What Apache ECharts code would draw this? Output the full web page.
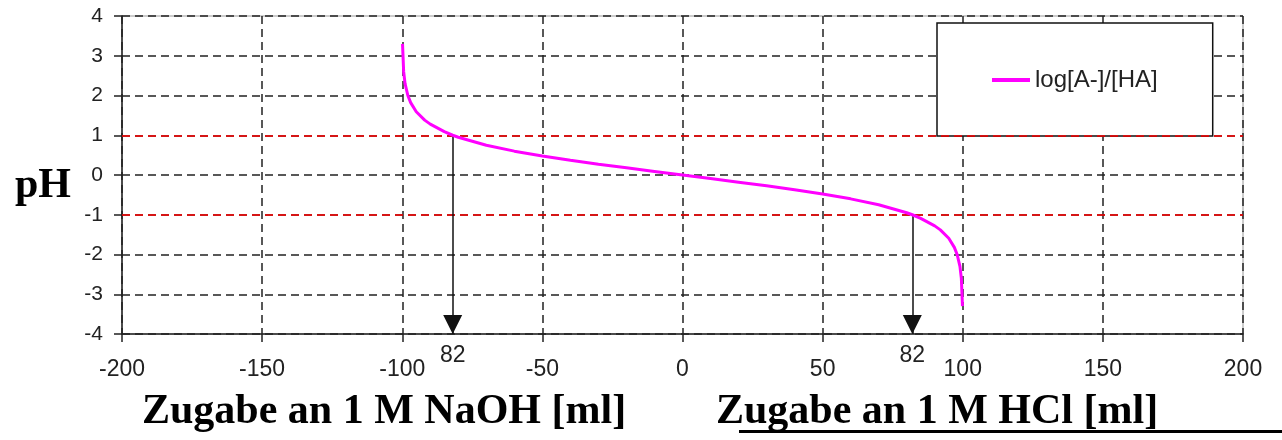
<!DOCTYPE html>
<html>
<head>
<meta charset="utf-8">
<script src="https://cdn.jsdelivr.net/npm/echarts@6/dist/echarts.min.js"></script>
<style>
  html, body { margin: 0; padding: 0; background: #fff; }
  #chart { width: 1282px; height: 440px; }
</style>
</head>
<body>
<div id="chart"></div>
<script>
// Zugabe (ml), negativ = NaOH, positiv = HCl
const volumes = [-99.9, -99.5, -99, -98, -97, -95, -92, -90, -85, -82, -80, -75, -70, -60, -50, -40, -30, -20, -10,
  0, 10, 20, 30, 40, 50, 60, 70, 75, 80, 82, 85, 90, 92, 95, 97, 98, 99, 99.5, 99.9];
const logRatio = [3.3, 2.6, 2.3, 2.0, 1.82, 1.59, 1.38, 1.28, 1.09, 1.0, 0.95, 0.85, 0.75, 0.6, 0.48, 0.37, 0.27, 0.18, 0.09,
  0, -0.09, -0.18, -0.27, -0.37, -0.48, -0.6, -0.75, -0.85, -0.95, -1.0, -1.09, -1.28, -1.38, -1.59, -1.82, -2.0, -2.3, -2.6, -3.3];
const seriesName = 'log[A-]/[HA]';
const refLevels = [1, -1];
const arrowVolumes = [-82, 82];
const arrowLabels = ['82', '82'];
const yMin = -4;

const chart = echarts.init(document.getElementById('chart'), null, { renderer: 'canvas' });

const curve = volumes.map((v, i) => [v, logRatio[i]]);

const option = {
  backgroundColor: '#fff',
  animation: false,
  grid: {
    left: 122,
    right: 39,
    top: 16,
    bottom: 106,
    show: true,
    borderColor: '#999',
    borderWidth: 1
  },
  legend: {
    data: [seriesName],
    left: 937,
    top: 23,
    padding: [45, 55, 44, 55],
    backgroundColor: '#fff',
    borderColor: '#111',
    borderWidth: 1.5,
    icon: 'rect',
    itemWidth: 38,
    itemHeight: 4,
    textStyle: {
      fontFamily: 'Liberation Sans',
      fontSize: 24,
      color: '#222'
    }
  },
  xAxis: {
    type: 'value',
    min: -200,
    max: 200,
    interval: 50,
    axisLine: { onZero: false, lineStyle: { color: '#222', width: 1.5 } },
    axisTick: { show: true, inside: false, length: 8, lineStyle: { color: '#222', width: 1.5 } },
    axisLabel: {
      fontFamily: 'Liberation Sans',
      fontSize: 23,
      color: '#222',
      margin: 24
    },
    splitLine: {
      show: true,
      lineStyle: { color: '#222', type: [8, 5], width: 1.5 }
    }
  },
  yAxis: {
    type: 'value',
    min: yMin,
    max: 4,
    interval: 1,
    axisLine: { show: true, onZero: false, lineStyle: { color: '#222', width: 1.5 } },
    axisTick: { show: true, inside: false, length: 8, lineStyle: { color: '#222', width: 1.5 } },
    axisLabel: {
      fontFamily: 'Liberation Sans',
      fontSize: 21,
      color: '#222',
      margin: 19
    },
    splitLine: {
      show: true,
      lineStyle: { color: '#222', type: [8, 5], width: 1.5 }
    }
  },
  series: [
    {
      name: seriesName,
      type: 'line',
      data: curve,
      showSymbol: false,
      symbol: 'none',
      smooth: false,
      itemStyle: { color: '#ff00ff' },
      lineStyle: { color: '#ff00ff', width: 3 },
      z: 5,
      markLine: {
        silent: true,
        symbol: ['none', 'none'],
        animation: false,
        data: refLevels.map(y => ({
          yAxis: y,
          lineStyle: { color: 'rgba(255,0,0,0.75)', type: [8, 5], width: 2 },
          label: { show: false }
        }))
      }
    },
    {
      // Pfeile vom Umschlagpunkt zur x-Achse
      type: 'line',
      data: [],
      silent: true,
      z: 6,
      markLine: {
        silent: true,
        animation: false,
        symbol: ['none', 'none'],
        lineStyle: { color: '#111', type: 'solid', width: 1.5 },
        label: {
          show: true,
          position: 'end',
          distance: 10,
          fontFamily: 'Liberation Sans',
          fontSize: 23,
          color: '#222'
        },
        data: arrowVolumes.map((v, i) => [
          { coord: [v, v < 0 ? refLevels[0] : refLevels[1]] },
          { coord: [v, yMin], label: { formatter: arrowLabels[i] } }
        ])
      },
      markPoint: {
        silent: true,
        animation: false,
        symbol: 'triangle',
        symbolRotate: 180,
        symbolSize: [19, 19],
        symbolOffset: [0, '-50%'],
        itemStyle: { color: '#111' },
        label: { show: false },
        data: arrowVolumes.map(v => ({ coord: [v, yMin] }))
      }
    }
  ],
  graphic: [
    {
      type: 'text',
      left: 15,
      top: 165,
      style: {
        text: 'pH',
        font: 'bold 42px "Liberation Serif"',
        fill: '#000'
      }
    },
    {
      type: 'text',
      left: 142,
      top: 391,
      style: {
        text: 'Zugabe an 1 M NaOH [ml]',
        font: 'bold 42px "Liberation Serif"',
        fill: '#000'
      }
    },
    {
      type: 'text',
      left: 716,
      top: 391,
      style: {
        text: 'Zugabe an 1 M HCl [ml]',
        font: 'bold 42px "Liberation Serif"',
        fill: '#000'
      }
    },
    {
      type: 'rect',
      left: 739,
      top: 430,
      shape: { width: 543, height: 3 },
      style: { fill: '#000' }
    }
  ]
};

chart.setOption(option);

window.addEventListener('resize', () => chart.resize());
</script>
</body>
</html>
